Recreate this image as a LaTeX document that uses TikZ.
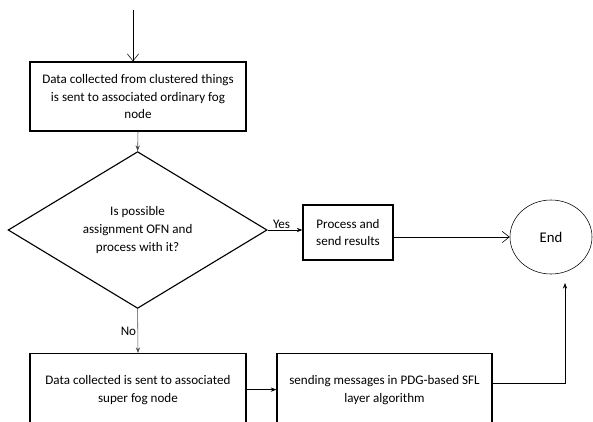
\documentclass[tikz,border=0pt]{standalone}
\usepackage{fontspec}
\setmainfont{Carlito}
\usetikzlibrary{arrows.meta,positioning,calc,shapes.geometric}

\begin{document}
\begin{tikzpicture}[>={Stealth[length=4pt,width=3pt]},font=\fontsize{9.3}{12.8}\selectfont]
\tikzstyle{b}=[draw,line width=0.9pt,align=center,inner sep=2pt]
\tikzstyle{g}=[->,gray!60!black]
\tikzstyle{v}=[-{Straight Barb[length=5pt,width=8pt]}]
\useasboundingbox (0,0) rectangle (14.825,-10.525);
\clip (0,0) rectangle (14.825,-10.525);
% boxes
\node[b,minimum width=5.4cm,minimum height=1.725cm] (b1) at (3.45,-2.4125) {Data collected from clustered things\\is sent to associated ordinary fog\\node};
\node[draw,thick,shape=diamond,minimum width=6.475cm,minimum height=3.25cm,inner sep=0pt,align=center] (q) at (3.44,-5.75) {Is possible\\assignment OFN and\\process with it?};
\node[b,minimum width=2.25cm,minimum height=1.375cm] (p) at (8.7,-5.8125) {Process and\\send results};
\node[draw,ellipse,minimum width=2.05cm,minimum height=1.85cm] (e) at (13.775,-5.925) {\fontsize{10.5}{12}\selectfont End};
\node[b,anchor=north,minimum width=5.4cm,minimum height=1.8cm] (b3) at (3.45,-8.825) {Data collected is sent to associated\\super fog node};
\node[b,anchor=north,minimum width=5.375cm,minimum height=1.8cm] (b4) at (9.6125,-8.825) {sending messages in PDG-based SFL\\layer algorithm};
\coordinate (s) at (3.325,-0.25);
\coordinate (t) at (14.125,-7.075);
% arrows
\draw[v] (s) -- (s |- b1.north);
\draw[g] (b1.south) -- (q.north);
\draw[->] (q.east) -- node[above,pos=0.4,inner sep=1pt]{Yes} (q.east -| p.west);
\draw[v] (e.west -| p.east) -- (e.west);
\draw[g] (q.south) -- node[left,inner sep=1pt]{\color{black}No} (b3.north);
\draw[->] (b3.east) -- (b4.west);
\draw[->] ($(b4.east)+(0,0.15)$) -| (t);
\end{tikzpicture}
\end{document}
